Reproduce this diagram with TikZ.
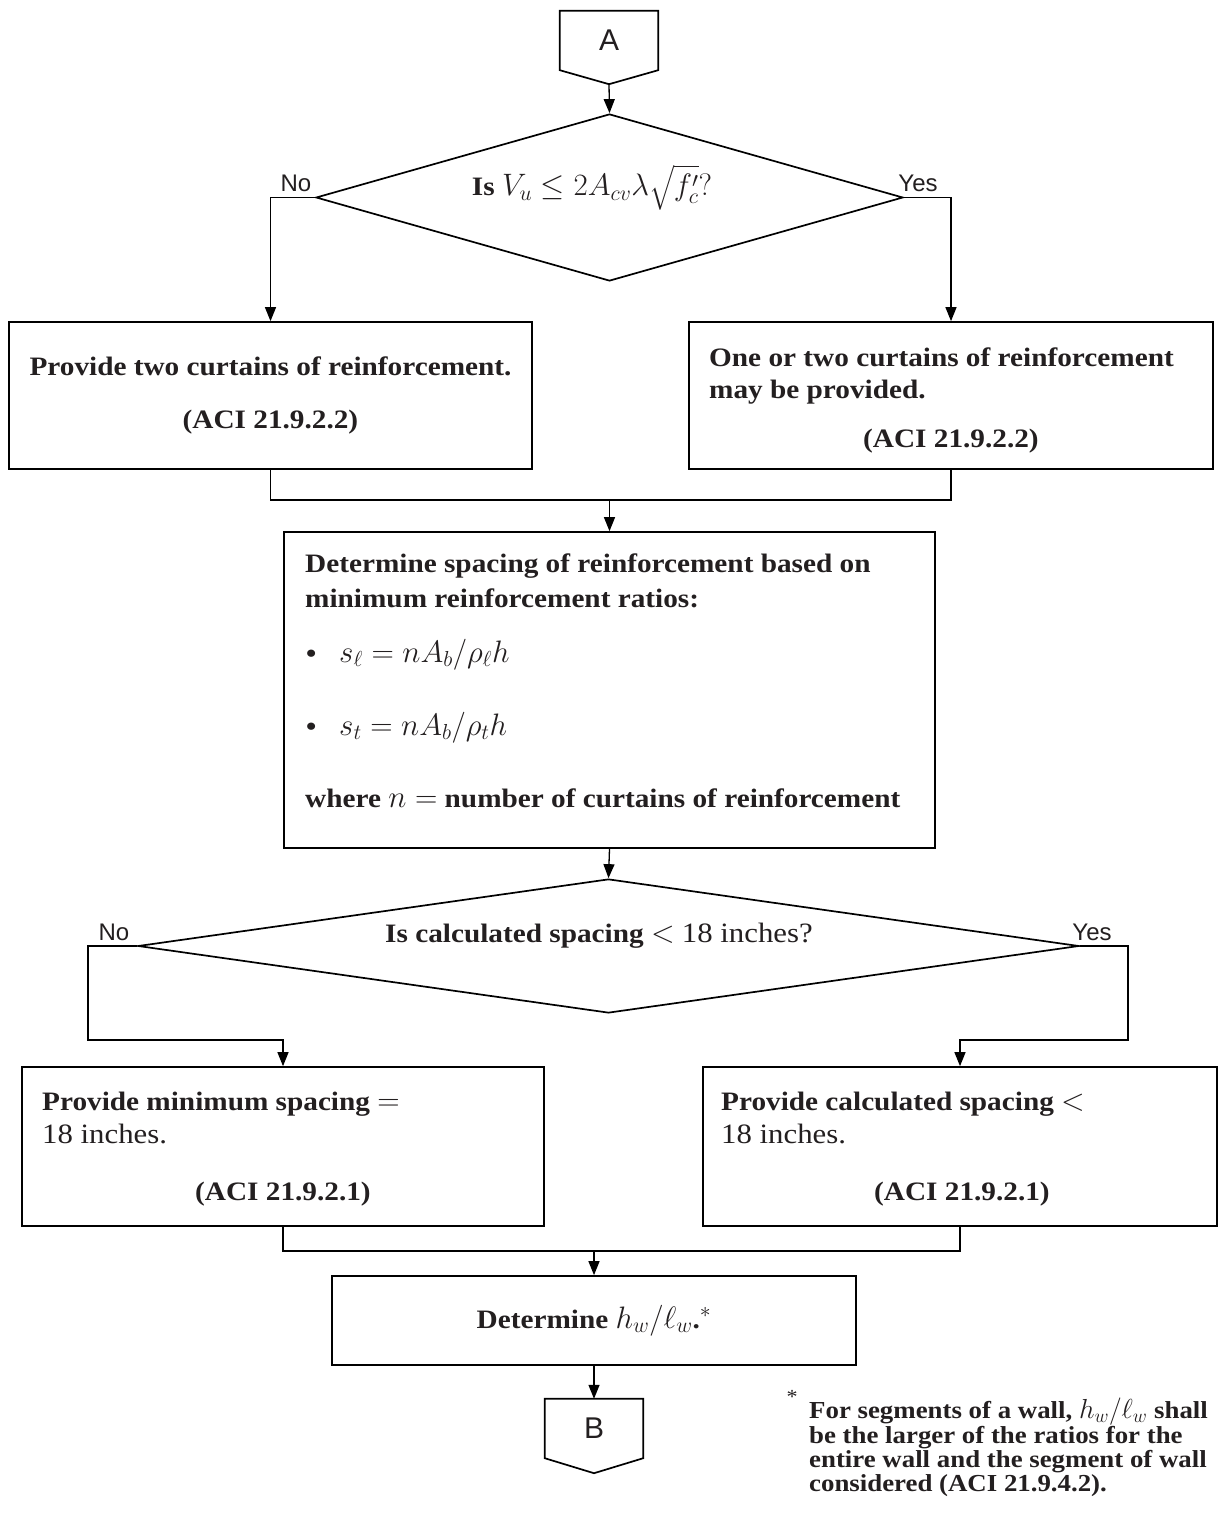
\RequirePackage{fix-cm}
\documentclass[tikz,border=0pt]{standalone}
\usepackage{fontspec}
\usepackage{amsmath}
\usetikzlibrary{arrows.meta,shapes.geometric}
\newfontfamily\serifbt{Liberation Serif}[FakeStretch=1.1]
\newfontfamily\sansf{Liberation Sans}
\definecolor{ink}{HTML}{231F20}
\newcommand\mth[1]{{\fontsize{31}{32}\selectfont$#1$}}
\newcommand\mthn[1]{{\fontsize{27.5}{30}\selectfont$#1$}}
\tikzset{
  shapeline/.style={draw=black, line width=1.7pt},
  procbox/.style={shapeline, rectangle, inner sep=0pt},
  decision/.style={shapeline, diamond, inner sep=0pt},
  conn/.style={draw=black, line width=1.3pt},
  arrow/.style={conn, -{Triangle[width=11pt,length=14pt]}},
  txt/.style={inner sep=0pt, text=ink, font=\serifbt\bfseries\fontsize{26.6}{32}\selectfont},
  lbl/.style={inner sep=0pt, text=ink, font=\sansf\fontsize{24}{28}\selectfont},
  termtxt/.style={inner sep=0pt, text=ink, font=\sansf\fontsize{30}{34}\selectfont},
  note/.style={inner sep=0pt, text=ink, font=\serifbt\bfseries\fontsize{24.4}{28}\selectfont},
  termbox/.style={rectangle, inner sep=0pt, minimum width=98pt, minimum height=59pt},
}
\begin{document}
\begin{tikzpicture}[x=1pt,y=-1pt]
\useasboundingbox (0,0) rectangle (1218,1517);
\fill[white] (0,0) rectangle (1218,1517);

% ---- connector A ----
\node[termbox, termtxt] (A) at (609,40.5) {A};
\draw[shapeline, line join=miter] (A.north west) -- (A.north east) -- (A.south east) -- ([yshift=-14pt]A.south) coordinate (Atip) -- (A.south west) -- cycle;

% ---- decision 1 ----
\node[decision, minimum width=587pt, minimum height=167pt] (d1) at (609.5,197.5) {};
\node[txt, anchor=base] (d1t) at (592,196) {Is \mth{V_u \le 2A_{cv}\lambda\sqrt{f_c'}?}};
\node[lbl, anchor=base] (no1) at (296,192) {No};
\node[lbl, anchor=base] (yes1) at (918,192) {Yes};

% ---- boxes row 1 ----
\node[procbox, minimum width=523pt, minimum height=147pt] (b1l) at (270.5,395.5) {};
\node[txt, anchor=base] (b1la) at (270.5,375) {Provide two curtains of reinforcement.};
\node[txt, anchor=base] (b1lb) at (270.5,428) {(ACI 21.9.2.2)};

\node[procbox, minimum width=524pt, minimum height=147pt] (b1r) at (951,395.5) {};
\node[txt, anchor=base west] (b1ra) at (709,366) {One or two curtains of reinforcement};
\node[txt, anchor=base west] (b1rb) at (709,398) {may be provided.};
\node[txt, anchor=base] (b1rc) at (951,447) {(ACI 21.9.2.2)};

% ---- big box ----
\node[procbox, minimum width=651pt, minimum height=316pt] (big) at (609.5,690) {};
\node[txt, anchor=base west] (bg1) at (305,572) {Determine spacing of reinforcement based on};
\node[txt, anchor=base west] (bg2) at (305,607) {minimum reinforcement ratios:};
\node[txt, anchor=base west] (bu1) at (306,662) {•};
\node[txt, anchor=base west] (bm1) at (339,662) {\mth{s_\ell = nA_b/\rho_\ell h}};
\node[txt, anchor=base west] (bu2) at (306,735) {•};
\node[txt, anchor=base west] (bm2) at (339,735) {\mth{s_t = nA_b/\rho_t h}};
\node[txt, anchor=base west] (bg3) at (305,807) {where \mth{n =} number of curtains of reinforcement};

% ---- decision 2 ----
\node[decision, minimum width=941pt, minimum height=134pt] (d2) at (608.5,946) {};
\node[txt, anchor=base] (d2t) at (599,942) {Is calculated spacing \mth{<} {\mdseries\fontsize{28}{32}\selectfont 18 inches?}};
\node[lbl, anchor=base] (no2) at (114,940) {No};
\node[lbl, anchor=base] (yes2) at (1092,940) {Yes};

% ---- boxes row 2 ----
\node[procbox, minimum width=522pt, minimum height=159pt] (b2l) at (283,1146.5) {};
\node[txt, anchor=base west] (b2la) at (42,1110) {Provide minimum spacing \mth{=}};
\node[txt, anchor=base west] (b2lb) at (42,1143) {\mdseries\fontsize{28}{32}\selectfont 18 inches.};
\node[txt, anchor=base] (b2lc) at (283,1200) {(ACI 21.9.2.1)};

\node[procbox, minimum width=514pt, minimum height=159pt] (b2r) at (960,1146.5) {};
\node[txt, anchor=base west] (b2ra) at (721,1110) {Provide calculated spacing \mth{<}};
\node[txt, anchor=base west] (b2rb) at (721,1143) {\mdseries\fontsize{28}{32}\selectfont 18 inches.};
\node[txt, anchor=base] (b2rc) at (962,1200) {(ACI 21.9.2.1)};

% ---- determine box ----
\node[procbox, txt, minimum width=524pt, minimum height=89pt] (det) at (594,1320.5) {Determine \mth{h_w/\ell_w}.\mth{^{*}}};

% ---- connector B ----
\node[termbox, termtxt] (B) at (594,1428.5) {B};
\draw[shapeline, line join=miter] (B.north west) -- (B.north east) -- (B.south east) -- ([yshift=-15pt]B.south) -- (B.south west) -- cycle;

% ---- footnote ----
\node[inner sep=0pt, text=ink, font=\serifbt\fontsize{20}{22}\selectfont, anchor=base] (fstar) at (792,1403) {*};
\node[note, anchor=base west] (f1) at (809,1418) {For segments of a wall, \mthn{h_w/\ell_w} shall};
\node[note, anchor=base west] (f2) at (809,1443) {be the larger of the ratios for the};
\node[note, anchor=base west] (f3) at (809,1467) {entire wall and the segment of wall};
\node[note, anchor=base west] (f4) at (809,1491) {considered (ACI 21.9.4.2).};

% ---- coordinates ----
\coordinate (m1) at (609.5,500);
\coordinate (c2l) at (88,1040);
\coordinate (c2r) at (1128,1040);
\coordinate (m2) at (594,1251);

% ---- connectors ----
\draw[arrow] (Atip) -- (d1.north);
\draw[arrow] (d1.west) -| (b1l.north);
\draw[arrow] (d1.east) -| (b1r.north);
\draw[conn] (b1l.south) |- (m1) -| (b1r.south);
\draw[arrow] (m1) -- (big.north);
\draw[arrow] (big.south) -- (d2.north);
\draw[arrow] (d2.west) -| (c2l) -| (b2l.north);
\draw[arrow] (d2.east) -| (c2r) -| (b2r.north);
\draw[conn] (b2l.south) |- (m2) -| (b2r.south);
\draw[arrow] (m2) -- (det.north);
\draw[arrow] (det.south) -- (B.north);
\end{tikzpicture}
\end{document}
